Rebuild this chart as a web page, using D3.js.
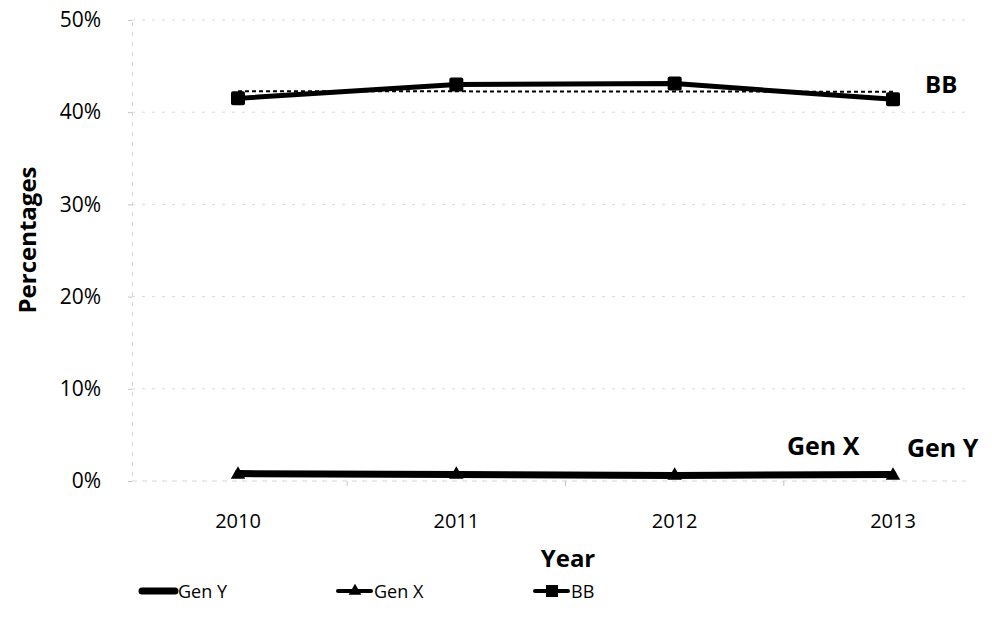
<!DOCTYPE html>
<html>
<head>
<meta charset="utf-8">
<script src="https://cdn.jsdelivr.net/npm/d3@7"></script>
<style>
  html, body { margin: 0; padding: 0; background: #fff; }
  svg { display: block; font-family: "Open Sans", "Noto Sans", sans-serif; }
</style>
</head>
<body>
<svg id="chart" width="992" height="630"></svg>
<script>
// Share of each generation by year (percent)
const years = ["2010", "2011", "2012", "2013"];
const genY = [0.8, 0.7, 0.6, 0.7];
const genX = [0.7, 0.7, 0.6, 0.6];
const bb = [41.5, 43.0, 43.1, 41.4];
const yTicks = [0, 10, 20, 30, 40, 50];

const FONT = '"Open Sans", "Noto Sans", sans-serif';
const svg = d3.select("#chart");

const x = d3.scalePoint().domain(years).range([238, 893]);
const y = d3.scaleLinear().domain([0, 50]).range([481, 20]);
const step = x.step();
const plotLeft = 132, plotRight = 966;

// faint gridlines
svg.append("g")
  .selectAll("line")
  .data(yTicks.filter(d => d > 0))
  .join("line")
  .attr("x1", plotLeft).attr("x2", plotRight)
  .attr("y1", d => y(d)).attr("y2", d => y(d))
  .attr("stroke", "#dadada").attr("stroke-width", 1)
  .attr("stroke-dasharray", "3,7");

// y axis
const yAxis = d3.axisLeft(y).tickValues(yTicks).tickFormat(d => d + "%").tickSize(4).tickPadding(27);
const gy = svg.append("g").attr("transform", `translate(${plotLeft},0)`).call(yAxis)
  .attr("font-family", FONT);
gy.select(".domain").attr("stroke", "#d6d6d6").attr("stroke-dasharray", "4,6");
gy.selectAll(".tick line").attr("stroke", "#c4c4c4");
gy.selectAll("text").attr("font-size", 21).attr("fill", "#000");

// x axis with ticks between categories
const bounds = years.slice(1).map(d => x(d) - step / 2);
svg.append("line")
  .attr("x1", plotLeft).attr("x2", plotRight)
  .attr("y1", y(0)).attr("y2", y(0))
  .attr("stroke", "#d6d6d6").attr("stroke-dasharray", "5,5");
svg.append("g").selectAll("line").data(bounds).join("line")
  .attr("x1", d => d).attr("x2", d => d)
  .attr("y1", y(0)).attr("y2", y(0) + 5)
  .attr("stroke", "#c4c4c4");
svg.append("g").selectAll("text").data(years).join("text")
  .attr("x", d => x(d)).attr("y", 528)
  .attr("text-anchor", "middle")
  .attr("font-size", 20)
  .text(d => d);

// axis titles
svg.append("text")
  .attr("x", 568).attr("y", 567)
  .attr("text-anchor", "middle")
  .attr("font-size", 24).attr("font-weight", 700)
  .text("Year");
svg.append("text")
  .attr("transform", "translate(36,240) rotate(-90)")
  .attr("text-anchor", "middle")
  .attr("font-size", 24).attr("font-weight", 700)
  .text("Percentages");

const line = d3.line().x((d, i) => x(years[i])).y(d => y(d));

// BB linear trendline (least squares over the year index)
const idx = years.map((d, i) => i);
const mx = d3.mean(idx), my = d3.mean(bb);
const slope = d3.sum(idx, i => (i - mx) * (bb[i] - my)) / d3.sum(idx, i => (i - mx) ** 2);
const trend = idx.map(i => my + slope * (i - mx));
svg.append("path")
  .attr("d", line(trend))
  .attr("fill", "none").attr("stroke", "#000")
  .attr("stroke-width", 2).attr("stroke-dasharray", "4,3");

// BB series
svg.append("path")
  .attr("d", line(bb))
  .attr("fill", "none").attr("stroke", "#000").attr("stroke-width", 5);
svg.append("g").selectAll("rect").data(bb).join("rect")
  .attr("x", (d, i) => x(years[i]) - 7).attr("y", d => y(d) - 7)
  .attr("width", 14).attr("height", 14).attr("rx", 2).attr("fill", "#000");

// Gen Y series
svg.append("path")
  .attr("d", line(genY))
  .attr("fill", "none").attr("stroke", "#000").attr("stroke-width", 7)
  .attr("stroke-linecap", "round");

// Gen X series
const tri = d3.symbol().type(d3.symbolTriangle).size(90);
svg.append("path")
  .attr("d", line(genX))
  .attr("fill", "none").attr("stroke", "#000").attr("stroke-width", 4);
svg.append("g").selectAll("path").data(genX).join("path")
  .attr("transform", (d, i) => `translate(${x(years[i])},${y(d)})`)
  .attr("d", tri).attr("fill", "#000");

// series end labels
svg.append("text").attr("x", 925).attr("y", 93)
  .attr("font-size", 24).attr("font-weight", 700).text("BB");
svg.append("text").attr("x", 787).attr("y", 455)
  .attr("font-size", 25).attr("font-weight", 700).text("Gen X");
svg.append("text").attr("x", 907).attr("y", 457)
  .attr("font-size", 25).attr("font-weight", 700).text("Gen Y");

// legend
const legend = [
  { name: "Gen Y", x: 142, marker: "none", w: 7 },
  { name: "Gen X", x: 338, marker: "triangle", w: 4 },
  { name: "BB", x: 535, marker: "square", w: 4 }
];
const lg = svg.append("g").selectAll("g").data(legend).join("g")
  .attr("transform", d => `translate(${d.x},591)`);
lg.append("line").attr("x1", 0).attr("x2", 33).attr("y1", 0).attr("y2", 0)
  .attr("stroke", "#000").attr("stroke-width", d => d.w).attr("stroke-linecap", "round");
lg.filter(d => d.marker === "triangle").append("path")
  .attr("transform", "translate(17,0)").attr("d", d3.symbol().type(d3.symbolTriangle).size(70)).attr("fill", "#000");
lg.filter(d => d.marker === "square").append("rect")
  .attr("x", 11).attr("y", -6).attr("width", 12).attr("height", 12).attr("fill", "#000");
lg.append("text").attr("x", 36).attr("y", 7).attr("font-size", 18).text(d => d.name);
</script>
</body>
</html>
